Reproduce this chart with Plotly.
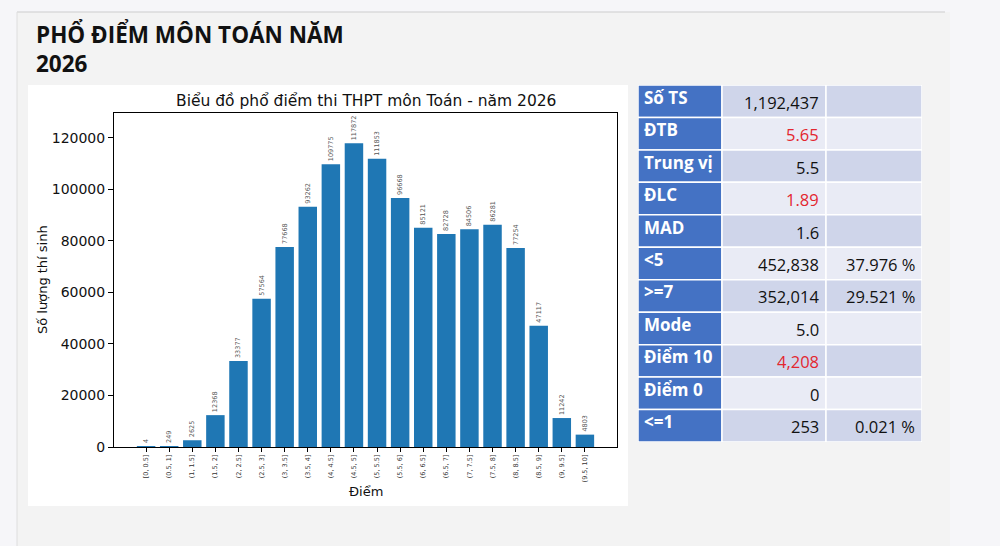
import plotly.graph_objects as go

# ---------------- data ----------------
categories = ["[0, 0.5]", "(0.5, 1]", "(1, 1.5]", "(1.5, 2]", "(2, 2.5]", "(2.5, 3]",
              "(3, 3.5]", "(3.5, 4]", "(4, 4.5]", "(4.5, 5]", "(5, 5.5]", "(5.5, 6]",
              "(6, 6.5]", "(6.5, 7]", "(7, 7.5]", "(7.5, 8]", "(8, 8.5]", "(8.5, 9]",
              "(9, 9.5]", "(9.5, 10]"]
counts = [4, 249, 2625, 12368, 33377, 57564, 77668, 93262, 109775, 117872,
          111853, 96668, 85121, 82728, 84506, 86281, 77254, 47117, 11242, 4803]
y_ticks = [0, 20000, 40000, 60000, 80000, 100000, 120000]

stat_labels = ["Số TS", "ĐTB", "Trung vị", "ĐLC", "MAD", "<5", ">=7", "Mode",
               "Điểm 10", "Điểm 0", "<=1"]
stat_values = ["1,192,437", "5.65", "5.5", "1.89", "1.6", "452,838", "352,014",
               "5.0", "4,208", "0", "253"]
stat_percents = ["", "", "", "", "", "37.976 %", "29.521 %", "", "", "", "0.021 %"]
stat_highlight = [False, True, False, True, False, False, False, False, True, False, False]

page_title = "PHỔ ĐIỂM MÔN TOÁN NĂM<br>2026"
chart_title = "Biểu đồ phổ điểm thi THPT môn Toán - năm 2026"
x_title = "Điểm"
y_title = "Số lượng thí sinh"

# ---------------- style ----------------
W, H = 1000, 546
BAR_COLOR = "#1f77b4"
MPL_FONT = "DejaVu Sans"
TABLE_FONT = "Open Sans"
COL_W = [84, 104, 96]
HEAD_BLUE = "#4472c4"
ROW_DARK = "#cfd5ea"
ROW_LIGHT = "#e9ebf5"
RED = "#e3262f"


def px_x(v):
    return v / W


def px_y(v):
    return 1 - v / H


fig = go.Figure()

fig.add_trace(go.Bar(
    x=list(range(len(categories))), y=counts, width=0.8,
    marker=dict(color=BAR_COLOR, line=dict(width=0)),
    text=[str(c) for c in counts], textposition="outside", textangle=-90,
    constraintext="none",
    textfont=dict(family=MPL_FONT, size=6.5, color="#555555"),
    cliponaxis=False, xaxis="x", yaxis="y", showlegend=False,
    hoverinfo="x+y",
))

n = len(categories)
span = (n - 1 + 0.8)
margin = 0.05 * span
ymax = max(counts) * 1.1

layout = dict(
    width=W, height=H, margin=dict(l=0, r=0, t=0, b=0),
    paper_bgcolor="#f6f6f9", plot_bgcolor="#ffffff",
    showlegend=False,
    uniformtext=dict(mode=False),
    xaxis=dict(
        domain=[px_x(114), px_x(617)],
        range=[-0.4 - margin, n - 1 + 0.4 + margin],
        tickmode="array", tickvals=list(range(n)), ticktext=categories,
        tickangle=-90, tickfont=dict(family=MPL_FONT, size=6.5, color="#333333"),
        ticks="outside", ticklen=4, tickcolor="#000000", tickwidth=1,
        showline=True, linecolor="#000000", linewidth=1, mirror=True,
        showgrid=False, zeroline=False, automargin=False, fixedrange=True,
    ),
    yaxis=dict(
        domain=[px_y(447), px_y(113)],
        range=[0, ymax],
        tickmode="array", tickvals=y_ticks, ticktext=[str(v) for v in y_ticks],
        tickfont=dict(family=MPL_FONT, size=14, color="#111111"),
        ticks="outside", ticklen=5, tickcolor="#000000", tickwidth=1,
        showline=True, linecolor="#000000", linewidth=1, mirror=True,
        showgrid=False, zeroline=False, automargin=False, fixedrange=True,
    ),
    xaxis2=dict(
        domain=[px_x(638), px_x(638 + sum(COL_W))], range=[0, sum(COL_W)],
        visible=False, fixedrange=True, anchor="y2",
    ),
    yaxis2=dict(
        domain=[px_y(442), px_y(85)], range=[len(stat_labels), 0],
        visible=False, fixedrange=True, anchor="x2",
    ),
)

shapes = []
annotations = []

# page panel
shapes.append(dict(type="rect", xref="paper", yref="paper",
                   x0=px_x(17), x1=px_x(950), y0=0, y1=px_y(12),
                   fillcolor="#f3f3f3", line=dict(width=0), layer="below"))
shapes.append(dict(type="line", xref="paper", yref="paper",
                   x0=px_x(17), x1=px_x(945), y0=px_y(12), y1=px_y(12),
                   line=dict(color="#cdcdcd", width=1), layer="below"))
shapes.append(dict(type="line", xref="paper", yref="paper",
                   x0=px_x(17), x1=px_x(17), y0=0, y1=px_y(12),
                   line=dict(color="#dedede", width=1), layer="below"))
# white chart card
shapes.append(dict(type="rect", xref="paper", yref="paper",
                   x0=px_x(28), x1=px_x(628), y0=px_y(506), y1=px_y(85),
                   fillcolor="#ffffff", line=dict(width=0), layer="below"))

# page title
annotations.append(dict(text="<b>" + page_title + "</b>", xref="paper", yref="paper",
                        x=px_x(34), y=px_y(16), xanchor="left", yanchor="top",
                        align="left", showarrow=False,
                        font=dict(family="Open Sans", size=22.5, color="#111111")))
# chart title
annotations.append(dict(text=chart_title, xref="paper", yref="paper",
                        x=px_x(366), y=px_y(101), xanchor="center", yanchor="middle",
                        showarrow=False,
                        font=dict(family=MPL_FONT, size=15.5, color="#111111")))
annotations.append(dict(text=x_title, xref="paper", yref="paper",
                        x=px_x(366), y=px_y(491), xanchor="center", yanchor="middle",
                        showarrow=False,
                        font=dict(family=MPL_FONT, size=13, color="#111111")))
annotations.append(dict(text=y_title, xref="paper", yref="paper",
                        x=px_x(42), y=px_y(280), xanchor="center", yanchor="middle",
                        textangle=-90, showarrow=False,
                        font=dict(family=MPL_FONT, size=13, color="#111111")))

# stats table
edges = [0]
for w in COL_W:
    edges.append(edges[-1] + w)

for r, (lab, val, pct, hi) in enumerate(zip(stat_labels, stat_values, stat_percents, stat_highlight)):
    row_fill = ROW_DARK if r % 2 == 0 else ROW_LIGHT
    fills = [HEAD_BLUE, row_fill, row_fill]
    for c in range(3):
        shapes.append(dict(type="rect", xref="x2", yref="y2",
                           x0=edges[c], x1=edges[c + 1], y0=r, y1=r + 1,
                           fillcolor=fills[c], line=dict(color="#ffffff", width=1.5),
                           layer="below"))
    annotations.append(dict(text="<b>" + lab + "</b>", xref="x2", yref="y2",
                            x=edges[0] + 4, y=r + 0.5, xanchor="left", yanchor="middle",
                            yshift=4, showarrow=False,
                            font=dict(family=TABLE_FONT, size=17, color="#ffffff")))
    annotations.append(dict(text=val, xref="x2", yref="y2",
                            x=edges[2] - 5, y=r + 0.5, xanchor="right", yanchor="middle",
                            yshift=-1, showarrow=False,
                            font=dict(family=TABLE_FONT, size=16.5,
                                      color=RED if hi else "#111111")))
    if pct:
        annotations.append(dict(text=pct, xref="x2", yref="y2",
                                x=edges[3] - 5, y=r + 0.5, xanchor="right", yanchor="middle",
                                yshift=-1, showarrow=False,
                                font=dict(family=TABLE_FONT, size=16.5, color="#111111")))

layout["shapes"] = shapes
layout["annotations"] = annotations
fig.update_layout(**layout)

fig.write_html("out.html", config={"displayModeBar": False})
